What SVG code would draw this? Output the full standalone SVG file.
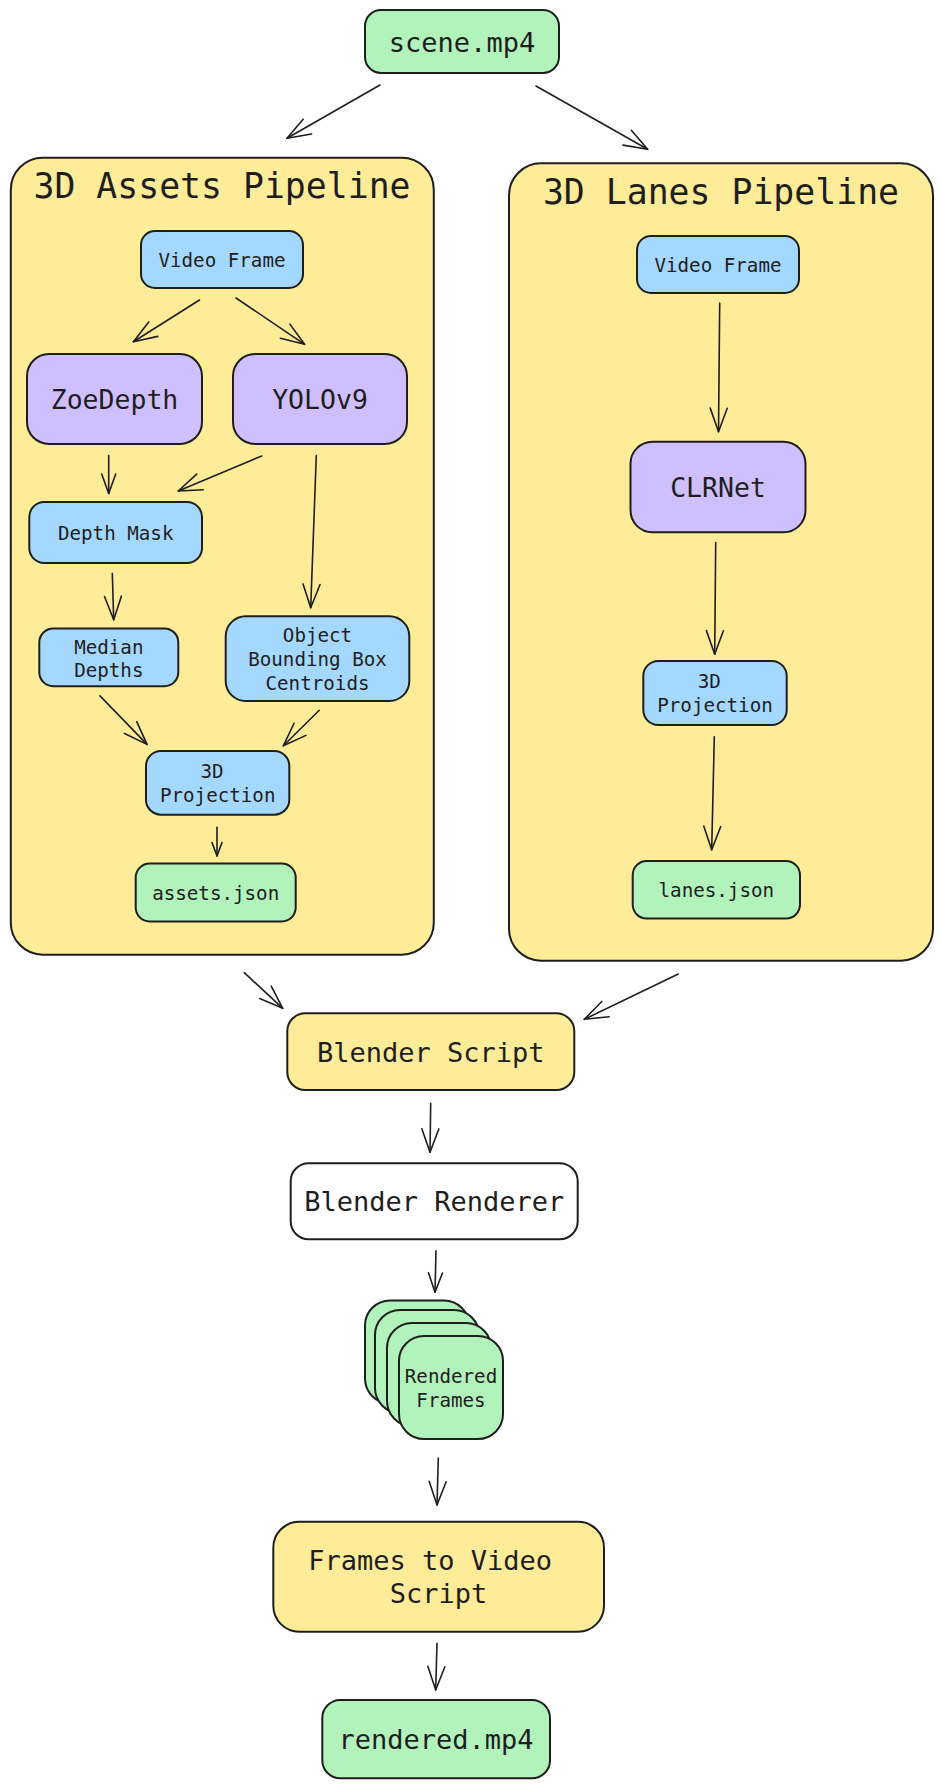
<svg xmlns="http://www.w3.org/2000/svg" width="942" height="1788" viewBox="0 0 942 1788">
<defs>
<style>
.box{stroke:#1e1e1e;stroke-width:2}
.grp{fill:#ffec99;stroke:#1e1e1e;stroke-width:2}
.g{fill:#b2f2bb}.b{fill:#a5d8ff}.p{fill:#d0bfff}.y{fill:#ffec99}.w{fill:#ffffff}
text{font-family:"DejaVu Sans Mono","Liberation Mono",monospace;fill:#1e1e1e}
.t27{font-size:27px}.t26{font-size:26.5px}.t19{font-size:19.2px}.t35{font-size:34.8px}
.c{text-anchor:middle}
.cn{fill:none;stroke:#1e1e1e;stroke-width:1.6;stroke-linecap:round}
</style>
<marker id="ah" markerUnits="userSpaceOnUse" orient="auto" viewBox="-26 -10 28 20" markerWidth="28" markerHeight="20" refX="0" refY="0" overflow="visible">
<path d="M-23.5,-8.5 L0,0 L-23.5,8.5" fill="none" stroke="#1e1e1e" stroke-width="1.6" stroke-linecap="round" stroke-linejoin="round"/>
</marker>
<marker id="ahm" markerUnits="userSpaceOnUse" orient="auto" viewBox="-22 -10 24 20" markerWidth="24" markerHeight="20" refX="0" refY="0" overflow="visible">
<path d="M-19.5,-7 L0,0 L-19.5,7" fill="none" stroke="#1e1e1e" stroke-width="1.6" stroke-linecap="round" stroke-linejoin="round"/>
</marker>
<marker id="ahs" markerUnits="userSpaceOnUse" orient="auto" viewBox="-16 -8 18 16" markerWidth="18" markerHeight="16" refX="0" refY="0" overflow="visible">
<path d="M-13.5,-5 L0,0 L-13.5,5" fill="none" stroke="#1e1e1e" stroke-width="1.6" stroke-linecap="round" stroke-linejoin="round"/>
</marker>
</defs>
<rect width="942" height="1788" fill="#ffffff"/>

<g id="assets-pipeline">
<rect class="grp" x="10.8" y="157.7" width="423" height="797" rx="32"/>
<text class="t35 c" x="222" y="198.3">3D Assets Pipeline</text>
</g>
<g id="lanes-pipeline">
<rect class="grp" x="509" y="163.3" width="424" height="797.4" rx="32"/>
<text class="t35 c" x="721" y="204">3D Lanes Pipeline</text>
</g>

<g id="scene-mp4"><rect class="box g" x="365" y="10" width="194" height="63" rx="16"/><text class="t27 c" x="462" y="51.5">scene.mp4</text></g>
<g id="video-frame-left"><rect class="box b" x="141" y="231" width="162" height="57" rx="14"/><text class="t19 c" x="222" y="266.5">Video Frame</text></g>
<g id="video-frame-right"><rect class="box b" x="637" y="236" width="162" height="57" rx="14"/><text class="t19 c" x="718" y="271.5">Video Frame</text></g>
<g id="zoedepth"><rect class="box p" x="27" y="354" width="175" height="90" rx="22"/><text class="t26 c" x="114.5" y="409">ZoeDepth</text></g>
<g id="yolov9"><rect class="box p" x="233" y="354" width="174" height="90" rx="22"/><text class="t26 c" x="320" y="409">YOLOv9</text></g>
<g id="clrnet"><rect class="box p" x="630.5" y="441.7" width="175" height="90.6" rx="22"/><text class="t26 c" x="718" y="496.8">CLRNet</text></g>
<g id="depth-mask"><rect class="box b" x="29.3" y="502" width="172.7" height="61" rx="15"/><text class="t19 c" x="115.7" y="539.7">Depth Mask</text></g>
<g id="median-depths"><rect class="box b" x="39.3" y="628.4" width="139" height="57.8" rx="14"/><text class="t19 c" x="108.8" y="653.5">Median</text><text class="t19 c" x="108.8" y="677">Depths</text></g>
<g id="object-centroids"><rect class="box b" x="225.7" y="616.3" width="183.6" height="84.7" rx="20"/><text class="t19 c" x="317.5" y="642">Object</text><text class="t19 c" x="317.5" y="666">Bounding Box</text><text class="t19 c" x="317.5" y="690">Centroids</text></g>
<g id="projection-left"><rect class="box b" x="146" y="751" width="143.3" height="63.7" rx="15"/><text class="t19" x="200.5" y="778.2">3D</text><text class="t19 c" x="217.7" y="801.7">Projection</text></g>
<g id="assets-json"><rect class="box g" x="135.7" y="863.5" width="160" height="58" rx="14"/><text class="t19 c" x="215.7" y="899.8">assets.json</text></g>
<g id="projection-right"><rect class="box b" x="643.3" y="661" width="143.4" height="64" rx="15"/><text class="t19" x="697.8" y="688.3">3D</text><text class="t19 c" x="715" y="711.8">Projection</text></g>
<g id="lanes-json"><rect class="box g" x="632.7" y="861" width="167.3" height="57.6" rx="14"/><text class="t19 c" x="716.3" y="896.8">lanes.json</text></g>
<g id="blender-script"><rect class="box y" x="287.3" y="1013.3" width="287" height="76.7" rx="18"/><text class="t27 c" x="430.8" y="1061.5">Blender Script</text></g>
<g id="blender-renderer"><rect class="box w" x="290.7" y="1163.3" width="287" height="76" rx="18"/><text class="t27 c" x="434.2" y="1211">Blender Renderer</text></g>
<g id="rendered-frames">
<rect class="box g" x="365" y="1300.5" width="104" height="103" rx="25"/>
<rect class="box g" x="375" y="1310" width="104" height="103" rx="25"/>
<rect class="box g" x="387" y="1323" width="104" height="103" rx="25"/>
<rect class="box g" x="399" y="1336" width="104" height="103" rx="25"/>
<text class="t19 c" x="451" y="1383">Rendered</text><text class="t19 c" x="451" y="1406.5">Frames</text>
</g>
<g id="frames-to-video"><rect class="box y" x="273.3" y="1521.7" width="330.7" height="110" rx="26"/><text class="t27" x="308.3" y="1569.5">Frames to Video</text><text class="t27 c" x="438.5" y="1603.4">Script</text></g>
<g id="rendered-mp4"><rect class="box g" x="322.3" y="1700" width="227.7" height="78.3" rx="18"/><text class="t27 c" x="436" y="1749">rendered.mp4</text></g>

<g id="connectors">
<path class="cn" marker-end="url(#ah)" d="M380,85 L287,138.3"/>
<path class="cn" marker-end="url(#ah)" d="M536,86 L647.6,149.3"/>
<path class="cn" marker-end="url(#ah)" d="M199.5,300 L133.4,341.7"/>
<path class="cn" marker-end="url(#ah)" d="M236,298 L304.6,344.3"/>
<path class="cn" marker-end="url(#ah)" d="M719.7,303 L718.5,431.7"/>
<path class="cn" marker-end="url(#ahm)" d="M108.7,455.5 L108.7,493.4"/>
<path class="cn" marker-end="url(#ah)" d="M261.7,456 L178.3,491"/>
<path class="cn" marker-end="url(#ah)" d="M316.3,455.5 L310.7,607.7"/>
<path class="cn" marker-end="url(#ah)" d="M112.3,573.6 L113.7,619.8"/>
<path class="cn" marker-end="url(#ah)" d="M100,695.9 L147,744.4"/>
<path class="cn" marker-end="url(#ah)" d="M319.3,710.3 L283.3,745.8"/>
<path class="cn" marker-end="url(#ahs)" d="M217,827.4 L217,856"/>
<path class="cn" marker-end="url(#ah)" d="M715.7,542.6 L714.7,654.2"/>
<path class="cn" marker-end="url(#ah)" d="M714.3,736.8 L711.7,849.8"/>
<path class="cn" marker-end="url(#ah)" d="M244.3,972.7 L282.7,1008.3"/>
<path class="cn" marker-end="url(#ah)" d="M678.3,974 L584.3,1019.3"/>
<path class="cn" marker-end="url(#ah)" d="M430.7,1103.3 L430,1152.3"/>
<path class="cn" marker-end="url(#ahm)" d="M436,1250.7 L435,1292.3"/>
<path class="cn" marker-end="url(#ah)" d="M438.3,1458 L437,1505"/>
<path class="cn" marker-end="url(#ah)" d="M437,1643.3 L435.7,1690"/>
</g>
</svg>
